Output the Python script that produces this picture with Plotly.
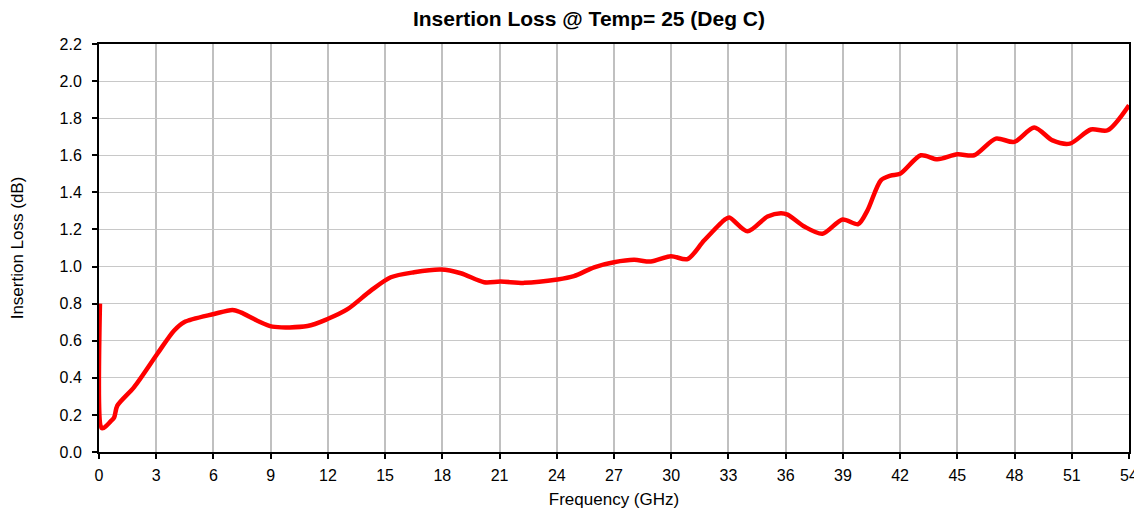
import plotly.graph_objects as go

freq_ghz = [0.05, 0.13, 0.25, 0.61, 0.79, 0.96, 1.84, 3.06, 3.93, 4.46, 6.03, 7.0, 7.43, 8.3, 9.09,
            10.93, 11.98, 13.03, 14.25, 15.3, 16.52, 17.92, 18.97, 20.19, 21.06, 22.29, 24.04, 24.9,
            25.96, 27.0, 28.05, 28.93, 29.98, 30.85, 31.72, 32.77, 33.04, 34.0, 35.05, 35.75, 36.1,
            36.97, 37.93, 38.98, 39.8, 40.29, 40.99, 41.5, 42.0, 43.09, 43.96, 45.0, 45.88, 47.02,
            47.98, 49.03, 49.99, 50.9, 52.0, 52.88, 54.0]
insertion_loss_db = [0.80, 0.13, 0.13, 0.165, 0.185, 0.25, 0.35, 0.53, 0.654, 0.70, 0.744, 0.766, 0.753,
                     0.708, 0.676, 0.679, 0.717, 0.77, 0.87, 0.942, 0.969, 0.984, 0.964, 0.915, 0.919,
                     0.912, 0.93, 0.948, 0.996, 1.023, 1.036, 1.027, 1.056, 1.04, 1.14, 1.25, 1.265,
                     1.19, 1.27, 1.288, 1.28, 1.216, 1.177, 1.254, 1.229, 1.303, 1.465, 1.49, 1.50,
                     1.60, 1.578, 1.605, 1.60, 1.69, 1.672, 1.75, 1.68, 1.663, 1.739, 1.735, 1.87]

x_ticks = list(range(0, 55, 3))
y_ticks = [round(i * 0.2, 1) for i in range(12)]

fig = go.Figure()
fig.add_trace(go.Scatter(
    x=freq_ghz, y=insertion_loss_db, mode="lines",
    line=dict(color="#ff0000", width=4.5, shape="spline", smoothing=0.8),
    showlegend=False, hoverinfo="x+y",
))

font = "Arial, Liberation Sans, sans-serif"
fig.update_layout(
    width=1142, height=514,
    margin=dict(l=91, r=21, t=36, b=70, autoexpand=False),
    paper_bgcolor="white", plot_bgcolor="white",
    font=dict(family=font, size=16, color="black"),
    title=dict(text="<b>Insertion Loss @ Temp= 25 (Deg C)</b>", x=581 / 1142, xanchor="center",
               y=1 - 10.5 / 514, yanchor="middle", font=dict(family=font, size=21, color="black")),
    xaxis=dict(
        range=[0, 54], tickvals=x_ticks, ticktext=[str(v) for v in x_ticks],
        showgrid=True, gridcolor="#c0c0c0", gridwidth=2,
        showline=True, linecolor="black", linewidth=2, mirror=True,
        ticks="outside", ticklen=5, tickwidth=2, tickcolor="black",
        ticklabelstandoff=3,
        zeroline=False, automargin=False,
        tickfont=dict(family=font, size=16),
        title=dict(text="Frequency (GHz)", font=dict(family=font, size=17), standoff=10),
    ),
    yaxis=dict(
        range=[0, 2.2], tickvals=y_ticks, ticktext=[f"{v:.1f}" for v in y_ticks],
        showgrid=True, gridcolor="#c8c8c8", gridwidth=1,
        showline=True, linecolor="black", linewidth=2, mirror=True,
        ticks="outside", ticklen=5, tickwidth=2, tickcolor="black",
        ticklabelstandoff=7,
        zeroline=False, automargin=False,
        tickfont=dict(family=font, size=16),
        title=dict(text="Insertion Loss (dB)", font=dict(family=font, size=17), standoff=32),
    ),
)

fig.write_html("out.html")
